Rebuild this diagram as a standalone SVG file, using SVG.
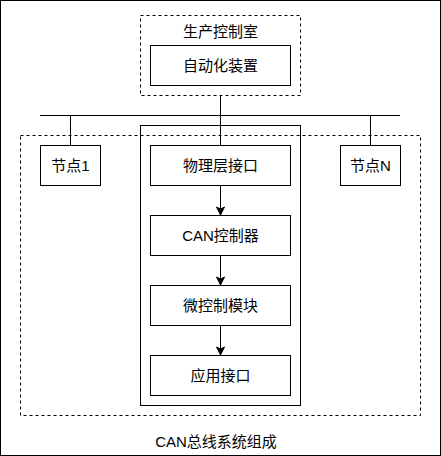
<svg xmlns="http://www.w3.org/2000/svg" width="441" height="456" viewBox="0 0 441 456">
<style>
.box{fill:#fff;stroke:#000;stroke-width:1}
.dash{fill:none;stroke:#000;stroke-width:1;stroke-dasharray:3 3}
.ln{fill:none;stroke:#000;stroke-width:1}
text{font-family:"Liberation Sans","Noto Sans CJK SC",sans-serif;font-size:15px;fill:#000;text-anchor:middle}
</style>
<defs>
<marker id="arr" markerUnits="userSpaceOnUse" markerWidth="12" markerHeight="12" viewBox="-10 -6 12 12" refX="0" refY="0" orient="auto">
<path d="M0,0 L-8,-4 L-6,0 L-8,4 Z" fill="#000" stroke="#000" stroke-width="1"/>
</marker>
</defs>
<rect x="0.5" y="0.5" width="440" height="455" class="box"/>
<g id="container-room">
<rect x="140.5" y="15.5" width="160" height="80" class="dash"/>
<text x="220.5" y="37">生产控制室</text>
</g>
<g id="container-system">
<rect x="20.5" y="135.5" width="400" height="280" class="dash"/>
</g>
<g id="container-node">
<rect x="140.5" y="125.5" width="160" height="280" class="box" fill="none" style="fill:none"/>
</g>
<g id="title">
<text x="216" y="447">CAN总线系统组成</text>
</g>
<g id="connectors">
<line x1="40" y1="115.5" x2="400" y2="115.5" class="ln"/>
<line x1="220.5" y1="95.5" x2="220.5" y2="145.5" class="ln"/>
<line x1="70.5" y1="115.5" x2="70.5" y2="145.5" class="ln"/>
<line x1="370.5" y1="115.5" x2="370.5" y2="145.5" class="ln"/>
<line x1="220.5" y1="185.5" x2="220.5" y2="215" class="ln" marker-end="url(#arr)"/>
<line x1="220.5" y1="255.5" x2="220.5" y2="285" class="ln" marker-end="url(#arr)"/>
<line x1="220.5" y1="325.5" x2="220.5" y2="355" class="ln" marker-end="url(#arr)"/>
</g>
<g id="auto">
<rect x="150.5" y="45.5" width="140" height="40" class="box"/>
<text x="220.5" y="71">自动化装置</text>
</g>
<g id="node1">
<rect x="40.5" y="145.5" width="60" height="40" class="box"/>
<text x="70.5" y="171">节点1</text>
</g>
<g id="nodeN">
<rect x="340.5" y="145.5" width="60" height="40" class="box"/>
<text x="370.5" y="171">节点N</text>
</g>
<g id="phy">
<rect x="150.5" y="145.5" width="140" height="40" class="box"/>
<text x="220.5" y="171">物理层接口</text>
</g>
<g id="can">
<rect x="150.5" y="215.5" width="140" height="40" class="box"/>
<text x="220.5" y="241">CAN控制器</text>
</g>
<g id="mcu">
<rect x="150.5" y="285.5" width="140" height="40" class="box"/>
<text x="220.5" y="311">微控制模块</text>
</g>
<g id="app">
<rect x="150.5" y="355.5" width="140" height="40" class="box"/>
<text x="220.5" y="381">应用接口</text>
</g>
</svg>
